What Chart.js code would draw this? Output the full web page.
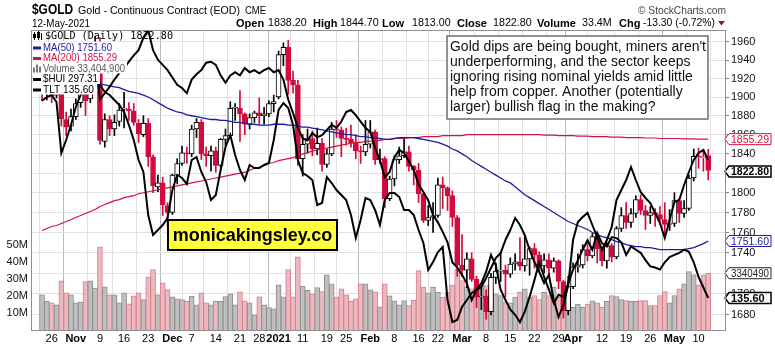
<!DOCTYPE html>
<html>
<head>
<meta charset="utf-8">
<title>$GOLD Daily</title>
<script src="https://cdn.jsdelivr.net/npm/chart.js@4.4.1/dist/chart.umd.min.js"></script>
<style>
  html, body { margin: 0; padding: 0; background: #fff; }
  #wrap { width: 775px; height: 346px; }
</style>
</head>
<body>
<div id="wrap"><canvas id="goldChart" width="775" height="346"></canvas></div>
<script>
'use strict'

// Trading calendar
const firstDay = '2020-10-22';
const lastDay = '2021-05-12';
const holidays = ['2020-11-26', '2020-12-25', '2021-01-01', '2021-01-18', '2021-02-15', '2021-04-02'];

// Gold continuous contract, one row per week
const opens = [
  1924, 1904, 1905, 1902, 1907, 1876, 1869,
  1879, 1894, 1910, 1898, 1947,
  1956, 1853, 1876, 1866, 1874,
  1887, 1887, 1885, 1872, 1860,
  1872, 1837, 1806, 1810,
  1787, 1780, 1818, 1830, 1841,
  1840, 1866, 1873, 1840, 1838,
  1843, 1828, 1855, 1859, 1888,
  1888, 1882, 1871, 1878,
  1883, 1880, 1882, 1893,
  1900, 1946, 1954, 1918, 1913,
  1835, 1850, 1856, 1845, 1851,
  1829, 1840, 1866, 1865,
  1856, 1855, 1851, 1843, 1842,
  1850, 1863, 1834, 1835, 1794,
  1814, 1834, 1838, 1842, 1827,
  1823, 1799, 1772, 1775,
  1777, 1808, 1805, 1797, 1775,
  1728, 1723, 1734, 1714, 1697,
  1698, 1683, 1716, 1722, 1723,
  1719, 1729, 1731, 1727, 1734,
  1744, 1738, 1727, 1733, 1725,
  1732, 1712, 1684, 1707,
  1726, 1728, 1743, 1737, 1756,
  1744, 1732, 1747, 1736, 1764,
  1777, 1770, 1779, 1793, 1782,
  1777, 1780, 1778, 1773, 1768,
  1769, 1792, 1779, 1784, 1815,
  1838, 1836, 1838.2
];
const highs = [
  1930, 1913, 1912, 1914, 1911, 1884, 1887,
  1898, 1913, 1916, 1952, 1966,
  1965, 1882, 1880, 1881, 1893,
  1905, 1894, 1893, 1876, 1880,
  1877, 1839, 1818, 1816,
  1790, 1819, 1835, 1848, 1847,
  1870, 1877, 1876, 1847, 1848,
  1847, 1856, 1866, 1895, 1893,
  1907, 1883, 1882, 1885,
  1899, 1889, 1896, 1902,
  1950, 1959, 1962, 1928, 1918,
  1860, 1866, 1864, 1867, 1856,
  1845, 1873, 1875, 1868,
  1867, 1870, 1860, 1848, 1875,
  1875, 1865, 1845, 1837, 1817,
  1838, 1847, 1855, 1848, 1828,
  1830, 1800, 1787, 1790,
  1815, 1816, 1806, 1802, 1777,
  1758, 1740, 1740, 1717, 1707,
  1704, 1720, 1730, 1740, 1728,
  1735, 1739, 1755, 1756, 1746,
  1749, 1741, 1739, 1739, 1735,
  1733, 1713, 1717, 1730,
  1739, 1748, 1749, 1759, 1758,
  1746, 1750, 1749, 1766, 1785,
  1790, 1784, 1797, 1798, 1787,
  1786, 1784, 1786, 1790, 1783,
  1800, 1794, 1792, 1818, 1845,
  1846, 1844, 1844.7
];
const lows = [
  1896, 1897, 1894, 1899, 1869, 1859, 1864,
  1876, 1889, 1880, 1894, 1936,
  1850, 1847, 1859, 1859, 1869,
  1867, 1875, 1870, 1852, 1858,
  1827, 1800, 1801, 1777,
  1765, 1778, 1809, 1828, 1830,
  1837, 1857, 1834, 1827, 1822,
  1821, 1826, 1849, 1856, 1875,
  1853, 1860, 1866, 1873,
  1871, 1871, 1879, 1884,
  1898, 1934, 1903, 1904, 1828,
  1817, 1841, 1838, 1839, 1822,
  1826, 1838, 1857, 1837,
  1849, 1847, 1835, 1830, 1838,
  1846, 1829, 1830, 1785, 1792,
  1807, 1830, 1836, 1822, 1808,
  1790, 1770, 1767, 1760,
  1775, 1784, 1782, 1766, 1717,
  1717, 1706, 1712, 1687, 1685,
  1676, 1680, 1710, 1712, 1697,
  1716, 1723, 1723, 1722, 1718,
  1725, 1722, 1720, 1718, 1721,
  1705, 1677, 1680, 1705,
  1721, 1725, 1732, 1735, 1730,
  1727, 1725, 1731, 1734, 1761,
  1764, 1765, 1775, 1778, 1763,
  1769, 1766, 1768, 1756, 1762,
  1766, 1770, 1775, 1782, 1812,
  1825, 1822, 1813.0
];
const closes = [
  1904, 1905, 1901, 1908, 1877, 1868, 1879,
  1893, 1910, 1896, 1946, 1951,
  1854, 1876, 1866, 1873, 1886,
  1887, 1885, 1873, 1861, 1872,
  1837, 1807, 1810, 1788,
  1780, 1818, 1830, 1841, 1840,
  1866, 1873, 1840, 1838, 1843,
  1828, 1855, 1859, 1888, 1888,
  1882, 1871, 1878, 1883,
  1880, 1882, 1893, 1895,
  1946, 1954, 1918, 1913, 1835,
  1850, 1856, 1845, 1851, 1829,
  1840, 1866, 1865, 1856,
  1855, 1851, 1843, 1842, 1850,
  1863, 1834, 1835, 1794, 1814,
  1834, 1838, 1842, 1827, 1823,
  1799, 1772, 1775, 1777,
  1808, 1805, 1797, 1775, 1728,
  1723, 1734, 1714, 1697, 1698,
  1683, 1716, 1722, 1723, 1719,
  1729, 1731, 1727, 1734, 1744,
  1738, 1727, 1733, 1725, 1732,
  1712, 1684, 1707, 1726,
  1728, 1743, 1737, 1756, 1744,
  1732, 1747, 1736, 1764, 1777,
  1770, 1779, 1793, 1782, 1777,
  1780, 1778, 1773, 1768, 1769,
  1792, 1779, 1784, 1815, 1837.5,
  1836.8, 1836.1, 1822.8
];

// Volume, millions
const volumes = [
  20.7, 16.8, 16.0, 14.8, 28.9, 21.9, 20.7,
  16.0, 16.4, 28.5, 28.9, 24.6,
  48.9, 25.4, 20.7, 20.7, 16.0,
  21.9, 15.4, 20.1, 21.9, 17.9,
  31.3, 35.6, 20.7, 27.7,
  23.8, 19.5, 18.3, 17.9, 16.8,
  19.9, 14.8, 21.9, 16.0, 14.8,
  16.8, 16.8, 19.7, 21.3, 14.8,
  22.5, 17.2, 16.0, 8.9,
  19.5, 14.8, 13.2, 12.5,
  26.6, 19.5, 35.6, 19.5, 43.0,
  25.8, 23.4, 21.3, 25.0, 22.6,
  32.5, 27.2, 19.5, 24.2,
  20.7, 16.8, 18.3, 27.2, 27.2,
  23.6, 22.5, 13.6, 27.2, 20.1,
  17.2, 14.8, 17.3, 14.4, 17.4,
  35.0, 25.2, 21.9, 25.2,
  22.2, 19.3, 22.2, 26.6, 36.0,
  29.1, 25.2, 24.2, 27.2, 26.6,
  26.2, 24.2, 21.3, 20.3, 16.4,
  16.0, 19.3, 22.2, 24.2, 19.3,
  20.3, 17.9, 22.2, 20.3, 25.2,
  19.3, 27.0, 14.4, 13.4,
  15.2, 13.4, 15.2, 17.2, 16.0,
  13.4, 16.8, 20.3, 19.7, 17.9,
  17.3, 16.8, 16.8, 17.3, 17.3,
  14.4, 14.4, 20.3, 22.6, 16.0,
  20.3, 24.2, 27.2, 34.4, 32.5,
  26.6, 32.5, 33.4049
];

// Moving averages of the close
const ma50 = [
  1923, 1922, 1921, 1921, 1920, 1920, 1919, 1918, 1917, 1917, 1916,
  1915, 1914, 1913, 1912, 1911, 1910, 1908, 1906, 1905, 1904,
  1902, 1900, 1897, 1894, 1891, 1888, 1886, 1884, 1883, 1881,
  1880, 1879, 1878, 1877, 1876, 1876, 1875, 1875, 1874, 1873,
  1873, 1872, 1871, 1871, 1870, 1870, 1870, 1871, 1871, 1871,
  1870, 1870, 1869, 1868, 1868, 1867, 1866, 1865, 1864, 1863,
  1862, 1861, 1860, 1860, 1859, 1858, 1858, 1857, 1857, 1856,
  1855, 1855, 1856, 1857, 1857, 1857, 1857, 1856, 1855, 1854,
  1853, 1852, 1850, 1848, 1845, 1843, 1840, 1837, 1833, 1830,
  1827, 1824, 1821, 1818, 1815, 1812, 1810, 1806, 1802, 1798,
  1795, 1792, 1789, 1786, 1783, 1780, 1777, 1774, 1771, 1769,
  1767, 1765, 1763, 1760, 1758, 1756, 1755, 1753, 1751, 1750,
  1748, 1747, 1746, 1746, 1745, 1745, 1744, 1743, 1743, 1743,
  1743, 1743, 1743, 1744, 1745, 1747, 1749, 1751.6
];
const ma200 = [
  1762, 1764, 1766, 1767, 1769, 1771, 1773, 1775, 1777, 1779, 1781,
  1783, 1786, 1788, 1790, 1792, 1793, 1795, 1796, 1797, 1799,
  1800, 1801, 1802, 1803, 1804, 1805, 1806, 1807, 1808, 1809,
  1810, 1811, 1812, 1813, 1814, 1815, 1816, 1817, 1818, 1819,
  1820, 1821, 1823, 1825, 1826, 1828, 1830, 1831, 1833, 1834,
  1835, 1836, 1838, 1840, 1841, 1843, 1844, 1845, 1846, 1847,
  1848, 1849, 1850, 1851, 1852, 1852, 1853, 1853, 1854, 1854,
  1855, 1855, 1856, 1856, 1856, 1857, 1857, 1857, 1858, 1858,
  1858, 1858, 1859, 1859, 1859, 1859, 1859, 1860, 1860, 1860,
  1860, 1860, 1860, 1860, 1860, 1860, 1860, 1860, 1860, 1860,
  1860, 1860, 1860, 1859.5, 1859.5, 1859.5, 1859, 1859, 1859, 1859,
  1858.5, 1858.5, 1858.5, 1858, 1858, 1858, 1858, 1857.5, 1857.5, 1857.5,
  1857, 1857, 1857, 1857, 1856.5, 1856.5, 1856.5, 1856, 1856, 1856,
  1856, 1856, 1855.5, 1855.5, 1855.5, 1855.4, 1855.3, 1855.29
];

// Comparison overlays
const hui = [
  321, 322.5, 323.3, 320.5, 300.1, 305.3, 311.3, 318.5, 323.3, 329.3, 343.3,
  342.1, 327.3, 324.5, 323.3, 321.3, 319.3, 316.5, 311.3, 305.3, 297.3,
  292.5, 275.3, 267.3, 269.3, 271.3, 274.1, 285.3, 291.3, 290.1, 287.7,
  297.3, 298.5, 292.5, 288.5, 281.3, 283.3, 293.3, 302.5, 307.3, 299.3,
  293.3, 289.3, 295.3, 294.1, 294.1, 295.3, 296.1, 305.3, 317.3, 320.1,
  318.1, 311.3, 297.3, 292.1, 290.9, 289.3, 279.3, 280.1, 290.5, 288.1,
  285.3, 283.3, 281.3, 275.3, 266.1, 273.3, 282.1, 281.3, 277.3, 271.3,
  281.3, 284.1, 284.1, 282.5, 277.3, 277.3, 275.3, 269.3, 264.1, 253.3,
  256.5, 260.5, 262.5, 241.3, 232.5, 233.3, 238.5, 241.3, 244.1, 245.3,
  246.5, 250.1, 254.1, 258.1, 260.1, 265.3, 269.3, 274.1, 271.3, 267.3,
  261.3, 256.5, 252.5, 248.1, 251.3, 241.3, 234.5, 239.3, 247.3, 265.3,
  272.5, 274.5, 276.1, 271.3, 266.5, 261.3, 265.3, 270.5, 281.3, 285.3,
  289.3, 294.5, 289.3, 284.5, 282.1, 280.1, 276.1, 272.1, 266.1, 273.3,
  280.5, 281.3, 287.3, 292.5, 297.3, 300.1, 301.3, 297.31
];
const tlt = [
  158.8, 158.5, 159.2, 159.5, 159.3, 157.9, 157.4, 157.0, 155.6, 159.3, 159.5,
  159.0, 154.5, 155.1, 155.7, 156.4, 157.0, 157.5, 158.1, 158.7, 159.2,
  160.4, 161.1, 159.2, 158.3, 157.8, 157.3, 156.6, 155.9, 155.6, 155.1,
  156.4, 156.9, 157.3, 158.0, 158.1, 157.8, 156.8, 156.1, 156.8, 157.1,
  156.8, 157.5, 157.1, 157.3, 157.0, 157.3, 157.5, 157.1, 157.3, 156.4,
  154.5, 153.2, 151.8, 150.8, 150.6, 151.3, 150.9, 151.1, 151.6, 152.1,
  151.8, 152.4, 153.3, 153.5, 153.0, 152.4, 151.8, 151.4, 149.9, 148.7,
  147.1, 147.6, 149.0, 149.7, 149.4, 148.6, 147.8, 146.4, 145.7, 144.9,
  143.5, 142.8, 141.9, 140.9, 139.0, 138.5, 137.8, 137.0, 135.4, 136.4,
  137.0, 138.1, 139.7, 138.7, 136.4, 135.4, 134.5, 134.0, 133.3, 134.3,
  135.7, 137.3, 139.0, 137.6, 136.4, 135.1, 135.9, 135.7, 137.0, 138.3,
  139.2, 140.2, 141.1, 140.2, 141.8, 140.8, 140.5, 141.4, 141.3, 140.9,
  139.7, 140.5, 140.2, 139.9, 139.2, 138.6, 138.5, 138.3, 139.0, 139.5,
  139.7, 139.9, 140.2, 140.0, 139.0, 137.6, 136.6, 135.6
];

// Axis ticks
const tickDates = [
  '2020-10-26', '2020-11-02', '2020-11-09', '2020-11-16', '2020-11-23',
  '2020-12-01', '2020-12-07', '2020-12-14', '2020-12-21', '2020-12-28',
  '2021-01-04', '2021-01-11', '2021-01-19', '2021-01-25',
  '2021-02-01', '2021-02-08', '2021-02-16', '2021-02-22',
  '2021-03-01', '2021-03-08', '2021-03-15', '2021-03-22', '2021-03-29',
  '2021-04-01', '2021-04-12', '2021-04-19', '2021-04-26',
  '2021-05-03', '2021-05-10'
];
const tickLabels = [
  '26', 'Nov', '9', '16', '23',
  'Dec', '7', '14', '21', '28',
  '2021', '11', '19', '25',
  'Feb', '8', '16', '22',
  'Mar', '8', '15', '22', '29',
  'Apr', '12', '19', '26',
  'May', '10'
];
const priceTicks = [1680, 1700, 1720, 1740, 1760, 1780, 1800, 1820, 1840, 1860, 1880, 1900, 1920, 1940, 1960];
const volumeTicks = [10, 20, 30, 40, 50];

const noteLines = [
  "Gold dips are being bought, miners aren't",
  'underperforming, and the sector keeps',
  'ignoring rising nominal yields amid little',
  'help from copper. Another (potentially',
  'larger) bullish flag in the making?'
];

const SANS = '"Liberation Sans", Arial, sans-serif';
const MONO = '"DejaVu Sans Mono", monospace';
const RED = '#d20b3d';
const NAVY = '#1c1ca0';
const CRIMSON = '#d3123f';

function tradingDays(from, to) {
    const out = [];
    const d = new Date(from + 'T00:00:00Z');
    const end = new Date(to + 'T00:00:00Z');
    while (d <= end) {
        const iso = d.toISOString().slice(0, 10);
        const wd = d.getUTCDay();
        if (wd !== 0 && wd !== 6 && !holidays.includes(iso)) out.push(iso);
        d.setUTCDate(d.getUTCDate() + 1);
    }
    return out;
}

const days = tradingDays(firstDay, lastDay);
const N = days.length;
const last = N - 1;

const tickIndex = tickDates.map(d => days.indexOf(d));
const tickLabelAt = new Map(tickIndex.map((v, i) => [v, tickLabels[i]]));
const isMonthTick = v => {
    const lbl = tickLabelAt.get(v);
    return !!lbl && !/^\d{1,2}$/.test(lbl);
};

// Candle colour: black when the close is up on the day before, red otherwise
function candleColor(i) {
    const prev = i > 0 ? closes[i - 1] : opens[i];
    return closes[i] >= prev ? '#000000' : RED;
}
function bodyFill(i) {
    return closes[i] >= opens[i] ? '#ffffff' : candleColor(i);
}
function volDown(i) {
    return i > 0 && closes[i] < closes[i - 1];
}

const asPoints = arr => arr.map((v, i) => ({ x: i, y: v }));

// Text, legend and tags drawn over the plot
function drawTag(ctx, y, text, color, bold) {
    ctx.save();
    ctx.beginPath();
    ctx.moveTo(725, y);
    ctx.lineTo(729, y - 5.5);
    ctx.lineTo(771, y - 5.5);
    ctx.lineTo(771, y + 5.5);
    ctx.lineTo(729, y + 5.5);
    ctx.closePath();
    ctx.fillStyle = '#ffffff';
    ctx.fill();
    ctx.lineWidth = bold ? 1.5 : 1;
    ctx.strokeStyle = color;
    ctx.stroke();
    ctx.fillStyle = color;
    ctx.font = (bold ? 'bold ' : '') + '11px ' + SANS;
    ctx.textAlign = 'left';
    ctx.textBaseline = 'middle';
    ctx.fillText(text, 731, y + 0.5, 38);
    ctx.restore();
}

// Legend rows: the first has no backing, the rest hide what lies under them
function drawLegend(ctx) {
    const rows = [
        { text: '$GOLD (Daily) ' + closes[last].toFixed(2), color: '#000', font: '10.5px ' + MONO, w: 128, y: 36, icon: 'candle', x: 45 },
        { text: 'MA(50) ' + ma50[last].toFixed(2), color: NAVY, w: 69, y: 47.5, icon: NAVY },
        { text: 'MA(200) ' + ma200[last].toFixed(2), color: CRIMSON, w: 74, y: 58, icon: CRIMSON },
        { text: 'Volume ' + Math.round(volumes[last] * 1e6).toLocaleString('en-US'), color: '#555', w: 82, y: 68.5, icon: 'bars' },
        { text: '$HUI ' + hui[last].toFixed(2), color: '#000', w: 55, y: 79, icon: '#000' },
        { text: 'TLT ' + tlt[last].toFixed(2), color: '#000', w: 51, y: 89.5, icon: '#000' }
    ];
    ctx.save();
    rows.forEach((r, k) => {
        if (k === 0) return;
        ctx.fillStyle = '#ffffff';
        ctx.fillRect(31, r.y - 6, 43 + r.w - 29, 11);
    });
    rows.forEach(r => {
        const tx = r.x || 43;
        if (r.icon === 'candle') {
            ctx.fillStyle = '#000';
            ctx.fillRect(34, r.y - 4, 1, 8);
            ctx.fillRect(33, r.y - 2, 3, 4);
            ctx.fillRect(38, r.y - 5, 1, 9);
            ctx.strokeStyle = '#000';
            ctx.lineWidth = 1;
            ctx.strokeRect(37.5, r.y - 3.5, 2, 5);
            ctx.fillRect(41, r.y - 3, 1, 7);
        } else if (r.icon === 'bars') {
            ctx.fillStyle = '#777';
            ctx.fillRect(33, r.y - 1, 2, 5);
            ctx.fillRect(36, r.y - 4, 2, 8);
            ctx.fillRect(39, r.y - 2, 2, 6);
        } else {
            ctx.fillStyle = r.icon;
            ctx.fillRect(33, r.y - 1, 8, 3);
        }
        ctx.fillStyle = r.color;
        ctx.font = r.font || '10.5px ' + SANS;
        ctx.textAlign = 'left';
        ctx.textBaseline = 'middle';
        ctx.fillText(r.text, tx, r.y + 0.5, r.w);
    });
    ctx.restore();
}

function drawNote(ctx) {
    ctx.save();
    ctx.fillStyle = '#ffffff';
    ctx.fillRect(447, 36, 261, 83);
    ctx.strokeStyle = '#6e6e6e';
    ctx.lineWidth = 1.5;
    ctx.strokeRect(447, 36, 261, 83);
    ctx.fillStyle = '#111';
    ctx.font = '14px ' + SANS;
    ctx.textAlign = 'left';
    ctx.textBaseline = 'middle';
    noteLines.forEach((line, i) => ctx.fillText(line, 450, 47.5 + i * 15, 256));

    // site badge
    ctx.fillStyle = '#ffff3c';
    ctx.fillRect(168, 220, 169, 30);
    ctx.strokeStyle = '#000';
    ctx.lineWidth = 2;
    ctx.strokeRect(168, 220, 169, 30);
    ctx.fillStyle = '#000';
    ctx.font = 'bold 18px ' + SANS;
    ctx.textAlign = 'center';
    ctx.fillText('monicakingsley.co', 252.5, 236, 160);
    ctx.restore();
}

function drawHeader(ctx) {
    ctx.save();
    ctx.textBaseline = 'middle';
    ctx.textAlign = 'left';
    ctx.fillStyle = '#000';
    ctx.font = 'bold 14px ' + SANS;
    ctx.fillText('$GOLD', 32, 10.5, 41);
    ctx.font = '11.5px ' + SANS;
    ctx.fillText('Gold - Continuous Contract (EOD)', 78, 11, 162);
    ctx.font = '10px ' + SANS;
    ctx.fillText('CME', 245, 11.5, 21);
    ctx.font = '11.5px ' + SANS;
    ctx.fillText('12-May-2021', 32, 23.5, 58);

    const chg = closes[last] - closes[last - 1];
    const pct = chg / closes[last - 1] * 100;
    const quote = [
        ['Open', 236, true], [opens[last].toFixed(2), 268, false],
        ['High', 313, true], [highs[last].toFixed(2), 340, false],
        ['Low', 382, true], [lows[last].toFixed(2), 412, false],
        ['Close', 457, true], [closes[last].toFixed(2), 493, false],
        ['Volume', 537, true], [volumes[last].toFixed(1) + 'M', 582, false],
        ['Chg', 619, true], [chg.toFixed(2) + ' (' + pct.toFixed(2) + '%)', 643, false]
    ];
    quote.forEach(([t, x, b]) => {
        ctx.font = (b ? 'bold 11px ' : '10.7px ') + SANS;
        ctx.fillText(t, x, 23.5, b ? 60 : (t.length > 10 ? 72 : 39));
    });
    ctx.fillStyle = '#8a1538';
    ctx.beginPath();
    ctx.moveTo(718, 21);
    ctx.lineTo(725, 21);
    ctx.lineTo(721.5, 25.5);
    ctx.closePath();
    ctx.fill();

    ctx.fillStyle = '#444';
    ctx.font = '11px ' + SANS;
    ctx.fillText('\u00a9 StockCharts.com', 638, 10.5, 88);
    ctx.restore();
}

const overlayPlugin = {
    id: 'overlay',
    afterDatasetsDraw(chart) {
        const ctx = chart.ctx;
        const s = chart.scales;
        drawLegend(ctx);
        drawNote(ctx);
        drawTag(ctx, s.y.getPixelForValue(ma200[last]), ma200[last].toFixed(2), CRIMSON, false);
        drawTag(ctx, s.y.getPixelForValue(closes[last]) + 1, closes[last].toFixed(2), '#000', true);
        drawTag(ctx, s.y.getPixelForValue(ma50[last]), ma50[last].toFixed(2), NAVY, false);
        drawTag(ctx, s.yVol.getPixelForValue(volumes[last]), String(Math.round(volumes[last] * 1e6)).slice(0, 7), '#222', false);
        drawTag(ctx, s.yTlt.getPixelForValue(tlt[last]), tlt[last].toFixed(2), '#000', true);
    },
    afterDraw(chart) {
        const ctx = chart.ctx;
        const a = chart.chartArea;
        ctx.save();
        ctx.strokeStyle = '#8f8f8f';
        ctx.lineWidth = 1;
        ctx.strokeRect(a.left + 0.5, a.top + 0.5, a.right - a.left - 1, a.bottom - a.top);
        ctx.restore();
        drawHeader(ctx);
    }
};

const lineStyle = (color, width) => ({
    type: 'line', borderColor: color, borderWidth: width, pointRadius: 0,
    tension: 0, fill: false, clip: 0
});

const ctx = document.getElementById('goldChart').getContext('2d');
const goldChart = new Chart(ctx, {
    type: 'bar',
    data: {
        datasets: [
            Object.assign(lineStyle('#000', 2), { label: 'TLT', data: asPoints(tlt), yAxisID: 'yTlt', order: 0 }),
            Object.assign(lineStyle('#000', 2), { label: '$HUI', data: asPoints(hui), yAxisID: 'yHui', order: 1 }),
            Object.assign(lineStyle(NAVY, 1.3), { label: 'MA(50)', data: asPoints(ma50), yAxisID: 'y', order: 2 }),
            Object.assign(lineStyle(CRIMSON, 1.2), { label: 'MA(200)', data: asPoints(ma200), yAxisID: 'y', order: 3 }),
            {
                label: 'body',
                data: days.map((d, i) => ({ x: i, y: [opens[i], closes[i]] })),
                yAxisID: 'y', order: 4, grouped: false, barThickness: 5, minBarLength: 1,
                backgroundColor: c => bodyFill(c.dataIndex),
                borderColor: c => candleColor(c.dataIndex),
                borderWidth: 1, borderSkipped: false, clip: 0
            },
            {
                label: 'wick',
                data: days.map((d, i) => ({ x: i, y: [lows[i], highs[i]] })),
                yAxisID: 'y', order: 5, grouped: false, barThickness: 1,
                backgroundColor: c => candleColor(c.dataIndex),
                borderWidth: 0, clip: 0
            },
            {
                label: 'Volume',
                data: asPoints(volumes),
                yAxisID: 'yVol', order: 6, grouped: false, barThickness: 5,
                backgroundColor: c => volDown(c.dataIndex) ? '#ebb9bf' : '#bfbfbf',
                borderColor: c => volDown(c.dataIndex) ? '#d6808c' : '#8e8e8e',
                borderWidth: 1, borderSkipped: 'bottom', clip: 0
            }
        ]
    },
    options: {
        responsive: false,
        animation: false,
        devicePixelRatio: 1,
        events: [],
        layout: { padding: { top: 30 }, autoPadding: false },
        plugins: { legend: { display: false }, tooltip: { enabled: false } },
        scales: {
            x: {
                type: 'linear', min: 0.2, max: 139.2,
                afterBuildTicks: s => { s.ticks = tickIndex.map(v => ({ value: v })); },
                afterFit: s => { s.height = 16; },
                ticks: {
                    autoSkip: false, maxRotation: 0, padding: 2, color: '#000',
                    callback: v => tickLabelAt.get(v) || '',
                    font: c => ({ family: SANS, size: 11, weight: isMonthTick(c.tick && c.tick.value) ? 'bold' : 'normal' })
                },
                grid: {
                    drawTicks: false,
                    color: c => isMonthTick(c.tick && c.tick.value) ? '#b9b9b9' : '#e1e1e1'
                },
                border: { display: false }
            },
            y: {
                type: 'logarithmic', position: 'right', min: 1665.7, max: 1973.3,
                afterBuildTicks: s => { s.ticks = priceTicks.map(v => ({ value: v })); },
                afterFit: s => { s.width = 49; },
                ticks: { color: '#111', padding: 2, font: { family: SANS, size: 11 }, callback: v => String(v) },
                grid: { color: '#e1e1e1', tickLength: 3, tickColor: '#888' },
                border: { display: false }
            },
            yVol: {
                type: 'linear', position: 'left', min: 0, max: 176.5,
                afterBuildTicks: s => { s.ticks = volumeTicks.map(v => ({ value: v })); },
                afterFit: s => { s.width = 31; },
                ticks: { color: '#111', padding: 3, font: { family: SANS, size: 11 }, callback: v => v + 'M' },
                grid: { drawOnChartArea: false, drawTicks: false },
                border: { display: false }
            },
            yHui: { type: 'linear', display: false, min: 229.3, max: 349.3 },
            yTlt: { type: 'linear', display: false, min: 132.55, max: 161.12 }
        }
    },
    plugins: [overlayPlugin]
});
</script>
</body>
</html>
